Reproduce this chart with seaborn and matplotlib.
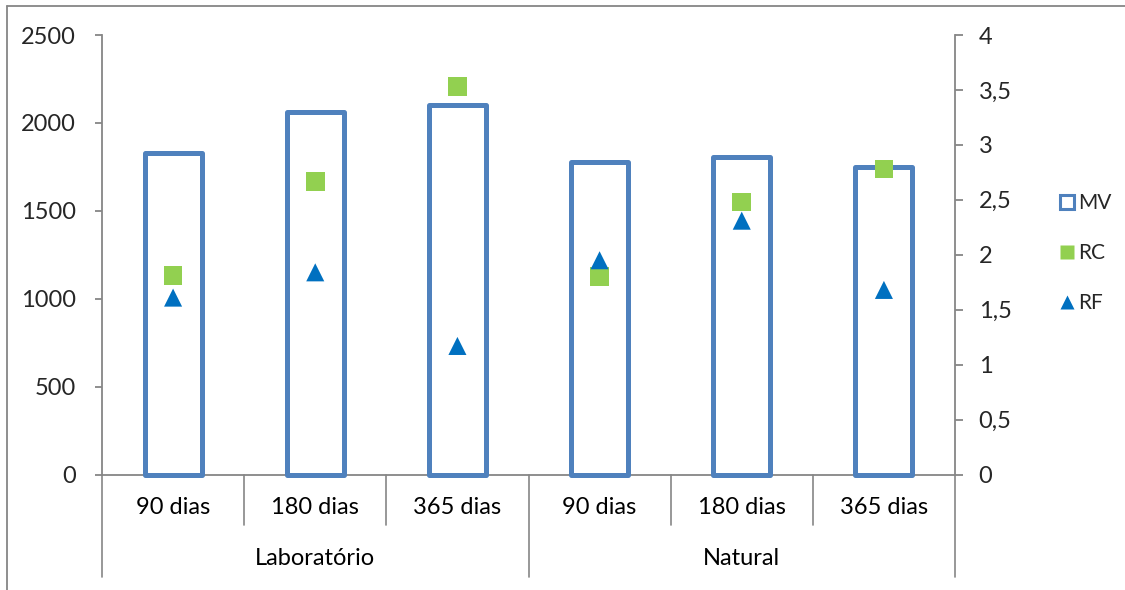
import matplotlib
matplotlib.use("Agg")
import matplotlib.pyplot as plt
import seaborn as sns
import pandas as pd
from matplotlib.lines import Line2D
from matplotlib.ticker import FuncFormatter

# ---- data ----
groups = ["Laboratório", "Natural"]
periods = ["90 dias", "180 dias", "365 dias"]
categories = ["Lab 90", "Lab 180", "Lab 365", "Nat 90", "Nat 180", "Nat 365"]
mv = [1830, 2060, 2100, 1775, 1808, 1748]
rc = [1.81, 2.67, 3.53, 1.80, 2.48, 2.78]
rf = [1.61, 1.84, 1.17, 1.95, 2.31, 1.68]
left_ticks = [0, 500, 1000, 1500, 2000, 2500]
right_ticks = [0, 0.5, 1, 1.5, 2, 2.5, 3, 3.5, 4]

df = pd.DataFrame({"cat": categories, "MV": mv, "RC": rc, "RF": rf,
                   "pos": list(range(len(categories)))})

sns.set_style("white")
plt.rcParams["font.family"] = ["Lato", "DejaVu Sans"]

BAR = "#4F81BD"
GREEN = "#92D050"
BLUE = "#0070C0"
GREY = "#868686"
FS = 17

fig = plt.figure(figsize=(11.25, 5.9), dpi=100)
ax = fig.add_axes([102 / 1125, 1 - 474.5 / 590, (955 - 102) / 1125, (474.5 - 35) / 590])

sns.barplot(data=df, x="cat", y="MV", order=categories, ax=ax, fill=False,
            color=BAR, width=0.4, linewidth=3.6, edgecolor=BAR, errorbar=None)
for p in ax.patches:
    p.set_edgecolor(BAR)
    p.set_facecolor("none")
    p.set_linewidth(3.6)
    p.set_joinstyle("round")
    p.set_clip_on(False)
    p.set_zorder(3)

ax.set_xlim(-0.5, 5.5)
ax.set_ylim(0, 2500)
ax.set_yticks(left_ticks)
ax.set_xticks([])
ax.set_xlabel("")
ax.set_ylabel("")
for s in ["top", "right"]:
    ax.spines[s].set_visible(False)
for s in ["left", "bottom"]:
    ax.spines[s].set_color(GREY)
    ax.spines[s].set_linewidth(1.3)
    ax.spines[s].set_zorder(1)
ax.tick_params(axis="y", direction="out", length=5, width=1.3, color=GREY,
               labelsize=FS, pad=14, left=True)

ax2 = ax.twinx()
tri = [(-1, -1), (1, -1), (0, 1)]
sns.scatterplot(data=df, x="pos", y="RC", ax=ax2, marker="s", s=13.5 ** 2,
                color=GREEN, edgecolor="none", linewidth=0, zorder=5)
sns.scatterplot(data=df, x="pos", y="RF", ax=ax2, marker=tri, s=13 ** 2,
                color=BLUE, edgecolor="none", linewidth=0, zorder=6)
ax2.set_xlim(-0.5, 5.5)
ax2.set_ylim(0, 4)
ax2.set_yticks(right_ticks)
ax2.yaxis.set_major_formatter(FuncFormatter(lambda v, _: f"{v:g}".replace(".", ",")))
ax2.set_xlabel("")
ax2.set_ylabel("")
for s in ["top", "left", "bottom"]:
    ax2.spines[s].set_visible(False)
ax2.spines["right"].set_color(GREY)
ax2.spines["right"].set_linewidth(1.3)
ax2.tick_params(axis="y", direction="out", length=6, width=1.3, color=GREY,
                labelsize=FS, pad=11, right=True)
ax2.grid(False)
ax.grid(False)
if ax2.get_legend():
    ax2.get_legend().remove()

# multi-level category axis
trans = ax.get_xaxis_transform()
sep_small = -50.5 / 439.5
sep_big = -102.5 / 439.5
for i in range(7):
    x = i - 0.5
    y_end = sep_big if i in (0, 3, 6) else sep_small
    ax.add_line(Line2D([x, x], [0, y_end], transform=trans, color=GREY,
                       lw=1.2, clip_on=False))
for i, c in enumerate(categories):
    ax.text(i, -33.5 / 439.5, periods[i % 3], transform=trans, ha="center",
            va="center", fontsize=FS, color="black")
for g, name in enumerate(groups):
    ax.text(g * 3 + 1, -84 / 439.5, name, transform=trans, ha="center",
            va="center", fontsize=FS, color="black")

# legend
handles = [
    Line2D([], [], ls="none", marker="s", markersize=10, markerfacecolor="white",
           markeredgecolor=BAR, markeredgewidth=2.2),
    Line2D([], [], ls="none", marker="s", markersize=10, markerfacecolor=GREEN,
           markeredgecolor="none"),
    Line2D([], [], ls="none", marker="^", markersize=10, markerfacecolor=BLUE,
           markeredgecolor="none"),
]
fig.legend(handles, ["MV", "RC", "RF"], loc="center left",
           bbox_to_anchor=(1050 / 1125, 1 - 253 / 590), frameon=False,
           fontsize=15, handlelength=0.8, handletextpad=0.15, labelspacing=1.45,
           borderaxespad=0)

# chart-area border (top and left visible)
fig.add_artist(Line2D([7 / 1125, 1], [1 - 6 / 590, 1 - 6 / 590],
                      transform=fig.transFigure, color=GREY, lw=1.3))
fig.add_artist(Line2D([7 / 1125, 7 / 1125], [0, 1 - 6 / 590],
                      transform=fig.transFigure, color=GREY, lw=1.3))

fig.savefig("out.png", dpi=100, facecolor="white")
